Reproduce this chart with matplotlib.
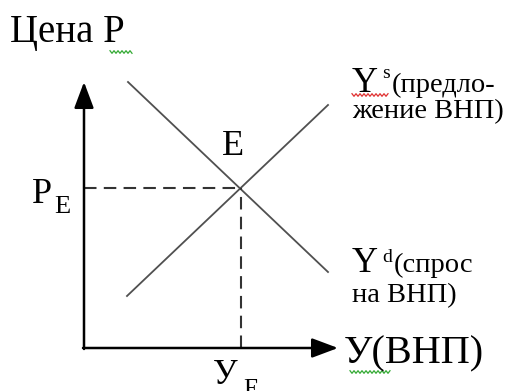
import numpy as np
import matplotlib
matplotlib.use("Agg")
import matplotlib.pyplot as plt

SERIF = 'Liberation Serif'

# diagram values (schematic units, origin at the axes corner)
supply_x = [43, 244]
supply_y = [52, 243]
demand_x = [44, 244]
demand_y = [266, 76]
eq_x, eq_y = 157, 160
x_axis_end = 254
y_axis_end = 266

fig = plt.figure(figsize=(5.06, 3.91), dpi=100)
ax = fig.add_axes([0, 0, 1, 1])
ax.set_xlim(-84, 422)
ax.set_ylim(-43, 348)
ax.axis('off')

line_col = '#505050'
ax.plot(supply_x, supply_y, color=line_col, lw=1.3)
ax.plot(demand_x, demand_y, color=line_col, lw=1.3)

# dashed guides to the equilibrium
ax.plot([0, eq_x], [eq_y, eq_y], color='#333333', lw=1.5, ls=(0, (6, 3.5)))
ax.plot([eq_x, eq_x], [0, eq_y], color='#333333', lw=1.5, ls=(0, (6, 3.5)))

# axes with arrows
arr = dict(arrowstyle='-|>,head_length=0.8,head_width=0.3', color='black', lw=1.8,
           shrinkA=0, shrinkB=0, mutation_scale=20)
ax.annotate('', xy=(0, y_axis_end), xytext=(0, -1), arrowprops=arr)
ax.annotate('', xy=(x_axis_end, 0), xytext=(-1, 0), arrowprops=arr)


def label(x, y, s, size):
    ax.text(x, y, s, fontsize=size, va='baseline', ha='left', family=SERIF)


label(-74, 306, 'Цена P', 28)
label(138, 193, 'E', 26)
label(-52, 145, 'P', 26)
label(-30, 135, 'E', 19)
label(129, -36, 'У', 25)
label(159, -48, 'E', 18)
label(260, -15, 'У(ВНП)', 29)

label(268, 256, 'Y', 26)
label(298, 270, 's', 14)
label(308, 256, '(предло-', 20.5)
label(268, 230, 'жение ВНП)', 20.5)

label(268, 76, 'Y', 26)
label(298, 86, 'd', 14)
label(310, 76, '(спрос', 20.5)
label(268, 46, 'на ВНП)', 20.5)


# spell-check squiggles
def squiggle(x0, x1, y, color):
    xs = np.arange(x0, x1 + 0.1, 2.0)
    ys = y + np.where(np.arange(len(xs)) % 2 == 0, 1.3, -1.3)
    ax.plot(xs, ys, color=color, lw=0.9)


squiggle(26, 48, 296, '#33aa33')
squiggle(266, 306, -24, '#33aa33')
squiggle(268, 304, 253, '#e03030')

fig.savefig('out.png', dpi=100)
